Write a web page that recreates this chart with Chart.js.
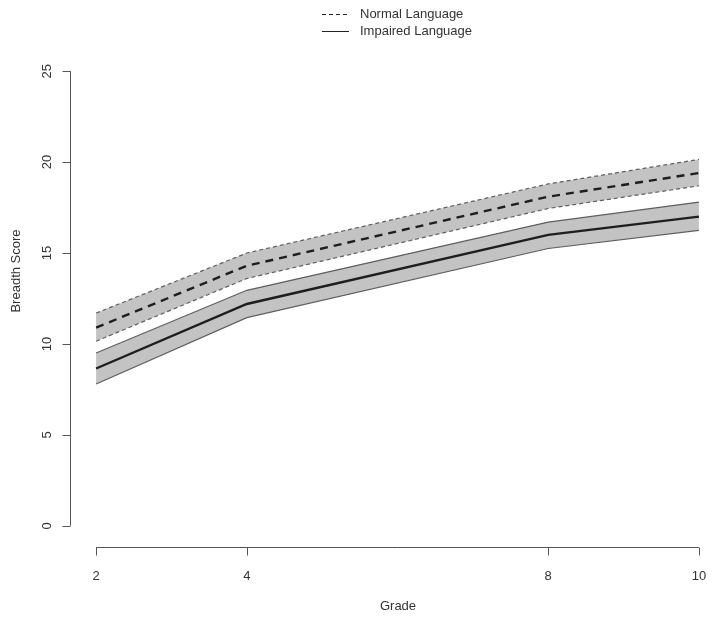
<!DOCTYPE html>
<html>
<head>
<meta charset="utf-8">
<script src="https://cdn.jsdelivr.net/npm/chart.js@4.4.0/dist/chart.umd.min.js"></script>
<style>
  html, body { margin: 0; padding: 0; background: #fff; }
  #wrap { width: 714px; height: 621px; }
</style>
</head>
<body>
<div id="wrap"><canvas id="breadthChart" width="714" height="621"></canvas></div>
<script>
// Data
const grades = [2, 4, 8, 10];
const xTicks = [2, 4, 8, 10];
const yTicks = [0, 5, 10, 15, 20, 25];

const normalMean  = [10.9, 14.3, 18.1, 19.4];
const normalLower = [10.15, 13.6, 17.45, 18.7];
const normalUpper = [11.7, 15.0, 18.8, 20.15];

const impairedMean  = [8.65, 12.2, 16.0, 17.0];
const impairedLower = [7.8, 11.45, 15.25, 16.25];
const impairedUpper = [9.5, 12.95, 16.7, 17.8];

const toPoints = arr => arr.map((v, i) => ({ x: grades[i], y: v }));

const bandFill = '#c3c3c3';
const bandEdge = '#5f5f5f';
const textColor = '#333';
const axisColor = '#555';
const font = '"Liberation Sans", Arial, sans-serif';

// R-style detached axes, labels and legend
const rStyle = {
  id: 'rStyle',
  afterDraw(chart) {
    const { ctx, chartArea, scales } = chart;
    const xs = scales.x, ys = scales.y;
    ctx.save();
    ctx.strokeStyle = axisColor;
    ctx.lineWidth = 1;
    ctx.fillStyle = textColor;
    ctx.font = '13px ' + font;

    // x axis
    const ay = chartArea.bottom + 3.5;
    ctx.beginPath();
    ctx.moveTo(xs.getPixelForValue(xTicks[0]), ay);
    ctx.lineTo(xs.getPixelForValue(xTicks[xTicks.length - 1]), ay);
    xTicks.forEach(t => {
      const px = Math.round(xs.getPixelForValue(t)) + 0.5;
      ctx.moveTo(px, ay);
      ctx.lineTo(px, ay + 8);
    });
    ctx.stroke();
    ctx.textAlign = 'center';
    ctx.textBaseline = 'middle';
    xTicks.forEach(t => ctx.fillText(String(t), xs.getPixelForValue(t), 576));
    ctx.fillText('Grade', 398, 606);

    // y axis
    const ax = chartArea.left - 1.5;
    ctx.beginPath();
    ctx.moveTo(ax, ys.getPixelForValue(yTicks[0]));
    ctx.lineTo(ax, ys.getPixelForValue(yTicks[yTicks.length - 1]));
    yTicks.forEach(t => {
      const py = Math.round(ys.getPixelForValue(t)) + 0.5;
      ctx.moveTo(ax, py);
      ctx.lineTo(ax - 8, py);
    });
    ctx.stroke();
    yTicks.forEach(t => {
      ctx.save();
      ctx.translate(47, ys.getPixelForValue(t));
      ctx.rotate(-Math.PI / 2);
      ctx.fillText(String(t), 0, 0);
      ctx.restore();
    });
    ctx.save();
    ctx.translate(16, 271);
    ctx.rotate(-Math.PI / 2);
    ctx.fillText('Breadth Score', 0, 0);
    ctx.restore();

    // legend
    const items = chart.data.datasets.filter(d => d.legend);
    items.forEach((d, i) => {
      const y = 14.5 + i * 17;
      ctx.beginPath();
      ctx.strokeStyle = '#222';
      ctx.lineWidth = 1;
      ctx.setLineDash(d.borderDash && d.borderDash.length ? [4, 3] : []);
      ctx.moveTo(322, y);
      ctx.lineTo(349, y);
      ctx.stroke();
      ctx.setLineDash([]);
      ctx.textAlign = 'left';
      ctx.fillText(d.label, 360, y);
    });
    ctx.restore();
  }
};

const bound = (label, data, dashed, fill) => ({
  label, data: toPoints(data),
  borderColor: bandEdge, borderWidth: 1.2,
  borderDash: dashed ? [4, 3] : [],
  backgroundColor: bandFill,
  fill: fill, pointRadius: 0, tension: 0
});

const mean = (label, data, dashed) => ({
  label, data: toPoints(data), legend: true,
  borderColor: '#1e1e1e', borderWidth: 2.4,
  borderDash: dashed ? [8, 6] : [],
  fill: false, pointRadius: 0, tension: 0
});

new Chart(document.getElementById('breadthChart'), {
  type: 'line',
  data: {
    datasets: [
      bound('Normal lower', normalLower, true, false),
      bound('Normal upper', normalUpper, true, '-1'),
      bound('Impaired lower', impairedLower, false, false),
      bound('Impaired upper', impairedUpper, false, '-1'),
      mean('Normal Language', normalMean, true),
      mean('Impaired Language', impairedMean, false)
    ]
  },
  options: {
    responsive: false,
    animation: false,
    layout: { padding: { left: 72, top: 53, right: 0, bottom: 77 } },
    scales: {
      x: { type: 'linear', min: 1.68, max: 10.2, display: false },
      y: { type: 'linear', min: -1, max: 26, display: false }
    },
    plugins: {
      legend: { display: false },
      tooltip: { enabled: false },
      filler: { drawTime: 'beforeDatasetsDraw' }
    }
  },
  plugins: [rStyle]
});
</script>
</body>
</html>
